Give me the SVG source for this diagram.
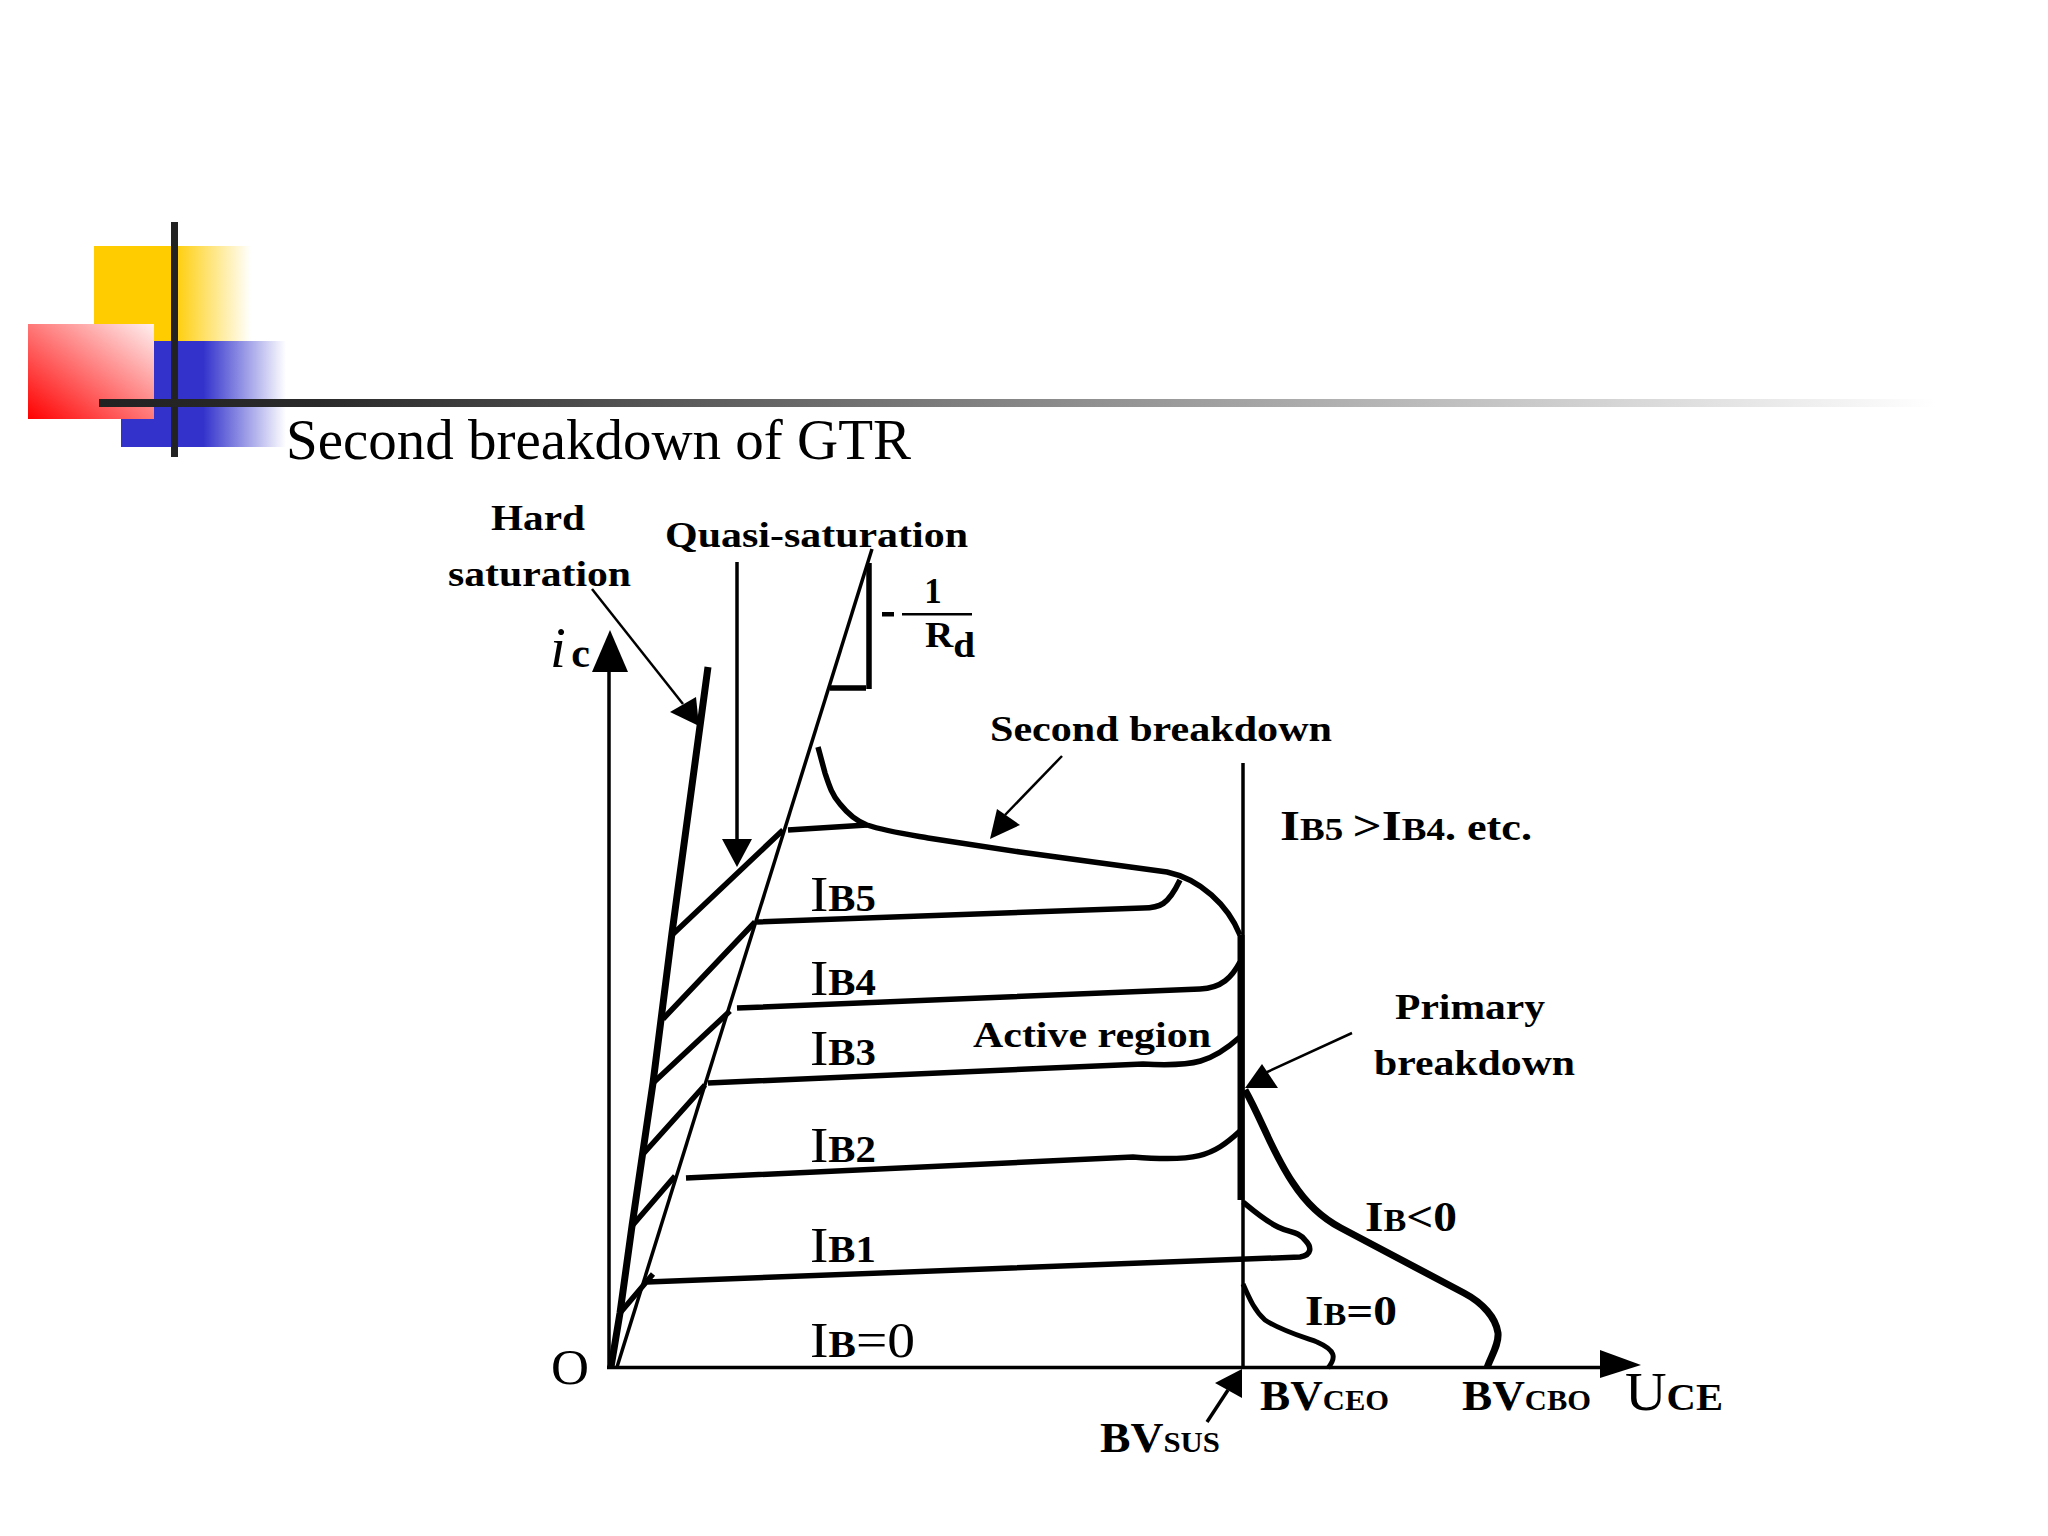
<svg xmlns="http://www.w3.org/2000/svg" width="2048" height="1536" viewBox="0 0 2048 1536">
<style>
text{font-family:"Liberation Serif","Times New Roman",serif;fill:#000}
.b{font-weight:bold;font-size:35px}
.r{font-size:50px}
.s{font-size:37px;font-weight:bold}
.l{fill:none;stroke:#000;stroke-linecap:butt;stroke-linejoin:round}
.w2{stroke-width:2.5}.w3{stroke-width:3.5}.w4{stroke-width:5}.w5{stroke-width:5.5}.w7{stroke-width:7}
</style>
<defs>
<linearGradient id="gy" gradientUnits="userSpaceOnUse" x1="94" y1="0" x2="251" y2="0"><stop offset="0" stop-color="#FFCC00"/><stop offset="0.5" stop-color="#FFCC00"/><stop offset="1" stop-color="#FFF"/></linearGradient>
<linearGradient id="gb" gradientUnits="userSpaceOnUse" x1="121" y1="0" x2="286" y2="0"><stop offset="0" stop-color="#3333CC"/><stop offset="0.5" stop-color="#3333CC"/><stop offset="1" stop-color="#FFF"/></linearGradient>
<linearGradient id="gr" x1="0" y1="1" x2="1" y2="0"><stop offset="0" stop-color="#FF0000"/><stop offset="1" stop-color="#FFF0F0"/></linearGradient>
<linearGradient id="gk" gradientUnits="userSpaceOnUse" x1="99" y1="0" x2="1935" y2="0"><stop offset="0" stop-color="#222"/><stop offset="0.12" stop-color="#2a2a2a"/><stop offset="1" stop-color="#FFF"/></linearGradient>
</defs>
<rect width="2048" height="1536" fill="#FFF"/>
<g id="decoration">
<rect x="94" y="246" width="157" height="96" fill="url(#gy)"/>
<rect x="121" y="341" width="165" height="106" fill="url(#gb)"/>
<rect x="28" y="324" width="126" height="95" fill="url(#gr)"/>
<rect x="171" y="222" width="7" height="235" fill="#222"/>
<rect x="99" y="399" width="1836" height="8" fill="url(#gk)"/>
</g>
<text id="title" x="286" y="459" font-size="58" textLength="625" lengthAdjust="spacingAndGlyphs">Second breakdown of GTR</text>
<g id="axes">
<path class="l w3" d="M609 1367V665M607 1367.500H1605"/>
<polygon points="610,630 628,672 592,672"/>
<polygon points="1641,1365 1600,1350 1600,1378"/>
</g>
<g id="curves">
<path class="l w7" d="M708 667 672 933 653 1083 632 1226 620 1313 611 1367"/>
<path class="l w3" d="M617 1367 872 549"/>
<path class="l w5" d="M869 563V689M830 688H866"/>
<path class="l w5" d="M672 935 783 830M788 830 867 825"/>
<path class="l w5" d="M663 1019 755 922M757 922 1143 908C1160 908 1168 905 1180 880"/>
<path class="l w5" d="M653 1083 730 1011M737 1008 1200 989C1222 988 1232 977 1240 962"/>
<path class="l w5" d="M644 1153 705 1085M708 1083 1143 1064C1195 1067 1212 1062 1240 1037"/>
<path class="l w5" d="M632 1226 675 1176M686 1178 1133 1157C1195 1162 1212 1157 1240 1131"/>
<path class="l w5" d="M620 1313 653 1274M647 1282 1300 1257C1312 1255 1312 1247 1305 1240C1298 1231 1290 1233 1278 1227C1264 1220 1255 1212 1243 1202"/>
<path class="l w5" d="M818 747 825 773C829 785 832 795 840 804C848 814 856 821 867 825C885 831 905 834 928 838L1020 852 1167 872C1200 879 1228 905 1240 935"/>
<path class="l w3" d="M1243 763V1367"/>
<path class="l w7" d="M1241 935V1200"/>
<path class="l w7" d="M1245 1090C1262 1120 1272 1152 1293 1183C1306 1203 1322 1218 1341 1228L1464 1293C1483 1303 1496 1318 1498 1333C1499 1345 1491 1356 1487 1368"/>
<path class="l w4" d="M1243 1284C1250 1300 1255 1311 1265 1320C1280 1330 1300 1336 1317 1342C1335 1350 1337 1357 1328 1368"/>
</g>
<g id="connectors">
<path class="l w2" d="M592 589 683 704"/>
<polygon points="699,726 670,712 696,697"/>
<path class="l w3" d="M737 562V840"/>
<polygon points="737,867 722,839 752,839"/>
<path class="l w2" d="M1062 756 1005 815"/>
<polygon points="990,839 997,809 1020,825"/>
<path class="l w2" d="M1352 1033 1265 1073"/>
<polygon points="1245,1088 1262,1064 1278,1088"/>
<path class="l w3" d="M1207 1422 1228 1390"/>
<polygon points="1242,1369 1215,1383 1242,1398"/>
</g>
<g id="labels">
<text class="b" x="491" y="530" textLength="94" lengthAdjust="spacingAndGlyphs">Hard</text>
<text class="b" x="448" y="586" textLength="183" lengthAdjust="spacingAndGlyphs">saturation</text>
<text class="b" x="665" y="547" textLength="303" lengthAdjust="spacingAndGlyphs">Quasi-saturation</text>
<text class="b" x="990" y="741" textLength="342" lengthAdjust="spacingAndGlyphs">Second breakdown</text>
<text class="b" x="973" y="1047" textLength="238" lengthAdjust="spacingAndGlyphs">Active region</text>
<text class="b" x="1395" y="1019" textLength="150" lengthAdjust="spacingAndGlyphs">Primary</text>
<text class="b" x="1374" y="1075" textLength="201" lengthAdjust="spacingAndGlyphs">breakdown</text>
<text x="550" y="667" font-size="57" font-style="italic" textLength="40" lengthAdjust="spacing">i<tspan font-size="42" font-weight="bold" font-style="normal">c</tspan></text>
<text class="r" x="551" y="1384" font-size="52" textLength="38" lengthAdjust="spacingAndGlyphs">O</text>
<rect x="882" y="612" width="12" height="4.500"/>
<rect x="902" y="613" width="70" height="2.500"/>
<text class="b" x="933" y="603" text-anchor="middle" font-size="37">1</text>
<text x="925" y="647" class="b" textLength="50" lengthAdjust="spacingAndGlyphs">R<tspan dy="10">d</tspan></text>
<text class="r" x="810" y="911" textLength="66" lengthAdjust="spacingAndGlyphs">I<tspan class="s">B5</tspan></text>
<text class="r" x="810" y="995" textLength="66" lengthAdjust="spacingAndGlyphs">I<tspan class="s">B4</tspan></text>
<text class="r" x="810" y="1065" textLength="66" lengthAdjust="spacingAndGlyphs">I<tspan class="s">B3</tspan></text>
<text class="r" x="810" y="1162" textLength="66" lengthAdjust="spacingAndGlyphs">I<tspan class="s">B2</tspan></text>
<text class="r" x="810" y="1262" textLength="66" lengthAdjust="spacingAndGlyphs">I<tspan class="s">B1</tspan></text>
<text class="r" x="810" y="1357" textLength="105" lengthAdjust="spacingAndGlyphs">I<tspan class="s">B</tspan>=0</text>
<text x="1280" y="840" font-size="43" font-weight="bold" textLength="252" lengthAdjust="spacingAndGlyphs">I<tspan font-size="31">B5 </tspan>&gt;I<tspan font-size="31">B4</tspan><tspan font-size="37">. etc.</tspan></text>
<text x="1365" y="1231" font-size="43" font-weight="bold" textLength="92" lengthAdjust="spacingAndGlyphs">I<tspan font-size="31">B</tspan>&lt;0</text>
<text x="1305" y="1325" font-size="43" font-weight="bold" textLength="92" lengthAdjust="spacingAndGlyphs">I<tspan font-size="31">B</tspan>=0</text>
<text x="1260" y="1410" font-size="43" font-weight="bold" textLength="129" lengthAdjust="spacingAndGlyphs">BV<tspan font-size="29">CEO</tspan></text>
<text x="1462" y="1410" font-size="43" font-weight="bold" textLength="129" lengthAdjust="spacingAndGlyphs">BV<tspan font-size="29">CBO</tspan></text>
<text x="1625" y="1410" font-size="54" textLength="98" lengthAdjust="spacingAndGlyphs">U<tspan font-size="38" font-weight="bold">CE</tspan></text>
<text x="1100" y="1452" font-size="43" font-weight="bold" textLength="120" lengthAdjust="spacingAndGlyphs">BV<tspan font-size="29">SUS</tspan></text>
</g>
</svg>
